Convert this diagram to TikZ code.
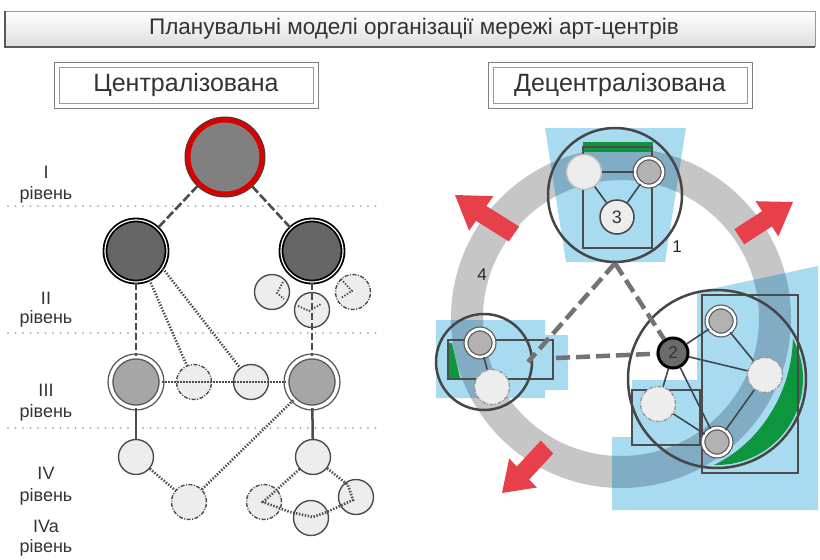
\documentclass[tikz,border=0pt]{standalone}
\usepackage{fontspec}
\setmainfont{Liberation Sans}

\definecolor{ringgray}{RGB}{198,198,198}
\definecolor{skyblue}{RGB}{168,218,240}
\definecolor{bandblue}{RGB}{128,172,196}
\definecolor{leafgreen}{RGB}{14,150,62}
\definecolor{arrred}{RGB}{232,64,74}
\definecolor{linkgray}{RGB}{62,72,80}
\definecolor{edgegray}{RGB}{70,70,70}

\newcommand\blueTop{(545,128) -- (686,128) -- (665,262) -- (566,262) -- cycle}
\newcommand\blueLeft{(436,320) -- (545,320) -- (545,335) -- (568,335) -- (568,390) -- (545,390) -- (545,398) -- (436,398) -- cycle}
\newcommand\blueRight{(697,292) -- (818,266) -- (818,510) -- (612,510) -- (612,437) -- (632,437) -- (632,380) -- (697,380) -- cycle}

\tikzset{
  headbox/.style={draw=black!50, line width=1pt, minimum width=264pt, minimum height=46pt,
    inner sep=0pt, font=\fontsize{25}{28}\selectfont, text=black!80},
  headin/.style={draw=black!40, line width=0.9pt, minimum width=254pt, minimum height=36pt, inner sep=0pt},
  lvl/.style={font=\fontsize{18}{20}\selectfont, text=black!80},
  sep/.style={draw=black!35, line width=2pt, line cap=round, dash pattern=on 0pt off 7.5pt},
  topnode/.style={circle, inner sep=0pt, minimum size=74pt, fill=black!50,
    preaction={draw=black!75, line width=7pt}, draw=red!85!black, line width=5pt},
  hubnode/.style={circle, inner sep=0pt, minimum size=62pt, fill=black!60,
    draw=black, line width=1.8pt, double=white, double distance=1.2pt},
  ringnode/.style={circle, inner sep=0pt, minimum size=51pt, fill=black!35,
    draw=black!65, line width=1.4pt, double=white, double distance=3.4pt},
  lnode/.style={circle, inner sep=0pt, minimum size=35pt, fill=black!7, draw=black!70, line width=1.4pt},
  ddash/.style={dash pattern=on 4pt off 1.5pt on 1pt off 1.5pt},
  gnode/.style={circle, inner sep=0pt, minimum size=28pt, fill=black!30,
    draw=black!65, line width=1.2pt, double=white, double distance=2.6pt},
  bignode/.style={circle, inner sep=0pt, draw=edgegray, line width=2.5pt},
  numnode/.style={circle, inner sep=0pt, minimum size=34pt, fill=black!7, draw=edgegray,
    line width=1.5pt, font=\fontsize{18}{18}\selectfont, text=black!80},
  hubtwo/.style={circle, inner sep=0pt, minimum size=30pt, fill=black!58, draw=black,
    line width=3pt, font=\fontsize{17}{17}\selectfont, text=black!80},
  dlink/.style={draw=black!70, line width=2.6pt, dash pattern=on 9pt off 3pt},
  vlink/.style={draw=black!70, line width=2pt, dash pattern=on 7pt off 3pt},
  plink/.style={draw=black!70, line width=2.6pt, dash pattern=on 1.4pt off 1.6pt},
  slink/.style={draw=black!70, line width=2.5pt},
  link/.style={draw=linkgray, line width=1.6pt},
  bigdash/.style={draw=black!55, line width=4.5pt, dash pattern=on 14pt off 6pt},
  rect/.style={draw=black!70, line width=2pt}
}

\begin{document}
\begin{tikzpicture}[x=1pt,y=-1pt]
\useasboundingbox (0,0) rectangle (820,560);

% title bar
\shade[top color=white, bottom color=black!13] (5,11) rectangle (815,47);
\draw[black!40, line width=0.8pt] (5,11) -- (815,11) -- (815,47);
\draw[black!65, line width=1.6pt] (5,11) -- (5,47) -- (815,47);
\node[font=\fontsize{22.5}{25}\selectfont, text=black!80] (title) at (414,29) {Планувальні моделі організації мережі арт-центрів};

\node[headin] (hcenin) at (186,85) {};
\node[headbox] (hcen) at (186,85) {Централізована};
\node[headin] (hdecin) at (620,85) {};
\node[headbox] (hdec) at (620,85) {Децентралізована};

% levels
\foreach \yy in {206,333,428}
  \draw[sep] (8,\yy) -- (376,\yy);

\node[lvl] (lvIa) at (46,172) {I};
\node[lvl] (lvIb) at (46,195) {рівень};
\node[lvl] (lvIIa) at (46,298) {II};
\node[lvl] (lvIIb) at (46,319) {рівень};
\node[lvl] (lvIIIa) at (46,390) {III};
\node[lvl] (lvIIIb) at (46,413) {рівень};
\node[lvl] (lvIVa) at (46,473) {IV};
\node[lvl] (lvIVb) at (46,497) {рівень};
\node[lvl] (lvIVc) at (46,526) {IVa};
\node[lvl] (lvIVd) at (46,548) {рівень};

% centralised tree
\node[topnode] (nI) at (225,157) {};
\node[hubnode] (nIIa) at (136,251) {};
\node[lnode] (c1) at (272,292) {};
\node[lnode] (c2) at (312,310) {};
\node[lnode, ddash] (c3) at (353,292) {};
\node[hubnode] (nIIb) at (312,251) {};

\node[ringnode] (nIIIa) at (136,382) {};
\node[ringnode] (nIIIb) at (312,382) {};
\node[lnode, ddash] (s1) at (194,382) {};
\node[lnode] (s2) at (251,382) {};

\node[lnode] (d1) at (136,457) {};
\node[lnode, ddash] (d2) at (189,502) {};
\node[lnode] (e1) at (313,457) {};
\node[lnode, ddash] (e2) at (264,502) {};
\node[lnode] (e3) at (311,518) {};
\node[lnode] (e4) at (356,497) {};

\draw[dlink] (nI) -- (nIIa);
\draw[dlink] (nI) -- (nIIb);
\draw[vlink] (nIIa) -- (nIIIa);
\draw[vlink] (nIIb) -- (nIIIb);
\draw[plink] (nIIa.-65) -- (s1);
\draw[plink] (nIIa.-33) -- (s2);
\draw[plink] (nIIIa) -- (nIIIb);
\draw[slink] (nIIIa) -- (d1);
\draw[slink] (nIIIb) -- (e1);
\draw[plink] (d1) -- (d2);
\draw[plink] (d2) -- (nIIIb);
\draw[plink] (e1) -- (263,502) -- (290,512) -- (313,517) -- (327,512) -- (353,500) -- (348,485) -- (e1);

\draw[plink, line width=1.8pt] (283,282) -- (277,293) -- (284,299);
\draw[plink, line width=1.8pt] (298,306) -- (309,311) -- (321,304);
\draw[plink, line width=1.8pt] (341,279) -- (352,291) -- (341,298);

% decentralised ring
\coordinate (ctr) at (621,318);
\draw[ringgray, line width=32pt] (ctr) circle[radius=154];

\fill[skyblue] \blueTop;
\fill[skyblue] \blueLeft;
\fill[skyblue] \blueRight;
\begin{scope}
  \clip \blueTop;
  \draw[bandblue, line width=32pt] (ctr) circle[radius=154];
\end{scope}
\begin{scope}
  \clip \blueLeft;
  \draw[bandblue, line width=32pt] (ctr) circle[radius=154];
\end{scope}
\begin{scope}
  \clip \blueRight;
  \draw[bandblue, line width=32pt] (ctr) circle[radius=154];
\end{scope}

% red arrows
\fill[arrred] (519.2,226.6) -- (486.4,206.0) -- (493.3,196.2) -- (455,195) -- (469.1,230.6) -- (476.0,220.8) -- (508.8,241.4) -- cycle;
\fill[arrred] (744.2,244.3) -- (771.9,226.4) -- (778.4,236.4) -- (793,202) -- (755.6,201.2) -- (762.1,211.2) -- (734.4,229.1) -- cycle;
\fill[arrred] (540.8,440.5) -- (516.8,466.5) -- (509.2,458.5) -- (502,493) -- (536.8,487.5) -- (529.2,479.5) -- (553.2,453.5) -- cycle;

% green parts
\fill[leafgreen] (583,142) rectangle (653,152);
\fill[leafgreen] (449,343) -- (452,343) -- (460,378) -- (449,378) -- cycle;
\fill[leafgreen] (717,379) ++(-28:86) arc[start angle=-28, end angle=92, radius=86]
  .. controls (762,442) and (792,390) .. (792.9,338.6) -- cycle;

\draw[rect] (583,147) rectangle (652,248);
\draw[rect] (448,340) rectangle (553,379);
\draw[rect] (702,295) rectangle (798,473);
\draw[rect] (632,390) rectangle (700,445);

\node[bignode, minimum size=134pt] (bigT) at (615,195) {};
\node[bignode, minimum size=96pt] (bigL) at (484,362) {};
\node[bignode, minimum size=178pt] (bigR) at (717,379) {};

\node[lnode, draw=black!25] (t1) at (584,172) {};
\node[gnode] (t2) at (649,172) {};
\node[numnode] (t3) at (617,217) {3};
\node[gnode] (lf1) at (480,343) {};
\node[lnode, ddash, draw=black!40] (lf2) at (492,387) {};
\node[gnode] (r1) at (721,321) {};
\node[gnode] (r2) at (717,442) {};
\node[lnode, ddash, draw=black!40] (r3) at (765,375) {};
\node[lnode, ddash, draw=black!40] (r4) at (658,404) {};
\node[hubtwo] (n2) at (673,353) {2};

\draw[link] (t1) -- (t2);
\draw[link] (t1) -- (t3);
\draw[link] (t2) -- (t3);
\draw[link] (lf1) -- (lf2);
\draw[link] (n2) -- (r1);
\draw[link] (n2) -- (r3);
\draw[link] (n2) -- (r4);
\draw[link] (n2) -- (r2);
\draw[link] (r4) -- (r2);
\draw[link] (r2) -- (r3);
\draw[link] (r1) -- (r3);

\coordinate (lend) at (528,362);
\coordinate (lstart) at (556,358);
\draw[bigdash] (bigT.south) -- (lend);
\draw[bigdash] (bigT.south) -- (n2);
\draw[bigdash] (lstart) -- (n2);

\node[font=\fontsize{17}{17}\selectfont, text=black!85] (num1) at (677,247) {1};
\node[font=\fontsize{17}{17}\selectfont, text=black!85] (num4) at (482,275) {4};

\end{tikzpicture}
\end{document}
